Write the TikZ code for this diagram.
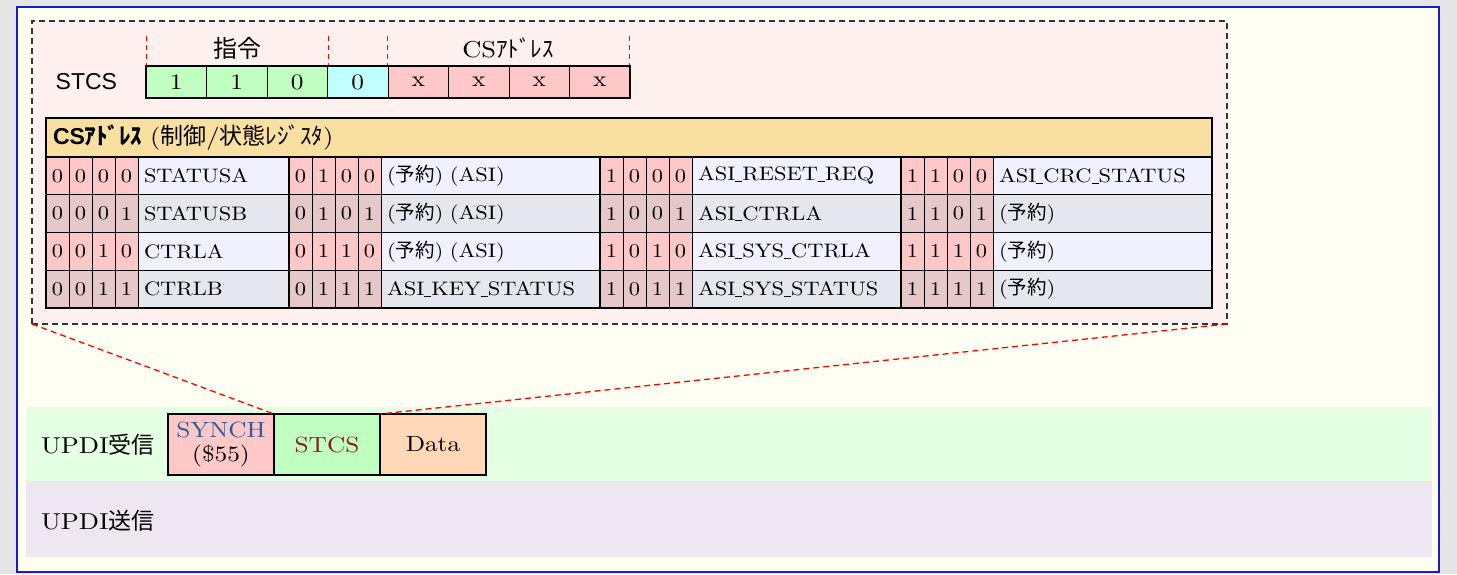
\documentclass[tikz,border=0pt]{standalone}
\usepackage{fontspec}
\setmainfont{lmroman10-regular.otf}[FakeStretch=1.15]
\setsansfont{Liberation Sans}
\newfontfamily\jp{Noto Sans CJK JP}
\usetikzlibrary{positioning}
\definecolor{pouter}{HTML}{E6E6E6}
\definecolor{pframe}{HTML}{1A1AD0}
\definecolor{pcream}{HTML}{FFFFF4}
\definecolor{pdetail}{HTML}{FFF0F0}
\definecolor{pgreen}{HTML}{C0FFC0}
\definecolor{pcyan}{HTML}{C0FFFF}
\definecolor{pbit1}{HTML}{FFC8C8}
\definecolor{pbit2}{HTML}{E6C8C8}
\definecolor{pname1}{HTML}{F0F0FF}
\definecolor{pname2}{HTML}{E6E6EE}
\definecolor{pwheat}{HTML}{FAE0A0}
\definecolor{prx}{HTML}{E4FFE4}
\definecolor{ptx}{HTML}{EEE6F0}
\definecolor{ppeach}{HTML}{FFD8B8}
\definecolor{pblue}{HTML}{2A5C9A}
\definecolor{pmaroon}{HTML}{8A1A1A}
\newcommand{\yoyaku}{({\jp 予約})}
\newcommand{\us}{\rule[-1pt]{0.36em}{0.8pt}}
\newcommand{\fs}[1]{\fontsize{#1}{#1}\selectfont}

\begin{document}
\begin{tikzpicture}[x=1pt,y=-1pt,
    every node/.style={inner sep=0pt,outer sep=0pt},
    bitbox/.style={draw,anchor=north west,minimum width=60.5pt,minimum height=32pt,font=\fs{22}},
    cell/.style={draw,line width=0.8pt,anchor=north west,minimum height=37.75pt,font=\fs{19.5}},
    frm/.style={draw,line width=2.5pt,minimum width=106pt,minimum height=61pt,
      align=center,font=\fontsize{22}{24}\selectfont}]
  \useasboundingbox (0,0) rectangle (1457,574);
  \fill[pouter] (0,0) rectangle (1457,574);
  \draw[pframe,line width=2pt,fill=pcream] (17,7) rectangle (1439,572);

  % zoomed STCS detail
  \node[draw=black!80,line width=1.2pt,dash pattern=on 6pt off 4pt,fill=pdetail,
        anchor=north west,minimum width=1195pt,minimum height=303pt] (detail) at (32,21) {};
  \foreach \x in {146,328,387,629}
    \draw[red,line width=0.9pt,dash pattern=on 5pt off 4pt] (\x,36) -- (\x,65);
  \node[font=\fs{24}] (lcmd) at (237,48) {\jp 指令};
  \node[font=\fs{23}] (laddr) at (508,48) {CS{\jp ｱﾄﾞﾚｽ}};
  \foreach \v/\c [count=\i] in {1/pgreen,1/pgreen,0/pgreen,0/pcyan,x/pbit1,x/pbit1,x/pbit1,x/pbit1}
    \node[bitbox,fill=\c] (b\i) at ({146+60.5*(\i-1)},66) {\v};
  \draw[line width=2.5pt] (b1.north west) rectangle (b8.south east);
  \node[font=\sffamily\fs{23},left=29pt of b1] (lstcs) {STCS};

  % CS address table
  \node[draw,fill=pwheat,anchor=north west,minimum height=39pt,text width=1152pt,
        inner xsep=7pt,font=\fs{23}] (thead) at (46,118)
    {{\sffamily\bfseries CS{\jp ｱﾄﾞﾚｽ}} ({\jp 制御}/{\jp 状態ﾚｼﾞｽﾀ})};
  \foreach \nm [count=\k from 0] in {STATUSA,STATUSB,CTRLA,CTRLB,
      \yoyaku\ (ASI),\yoyaku\ (ASI),\yoyaku\ (ASI),ASI\us KEY\us STATUS,
      ASI\us RESET\us REQ,ASI\us CTRLA,ASI\us SYS\us CTRLA,ASI\us SYS\us STATUS,
      ASI\us CRC\us STATUS,\yoyaku,\yoyaku,\yoyaku}{
    \pgfmathtruncatemacro\g{int(\k/4)}
    \pgfmathtruncatemacro\r{mod(\k,4)}
    \pgfmathsetmacro\gx{{46,289,600,901}[\g]}
    \pgfmathsetmacro\tw{{151,219,209,219}[\g]-12}
    \pgfmathsetmacro\ry{157+37.75*\r}
    \ifodd\r\relax \def\bc{pbit2}\def\nc{pname2}\else \def\bc{pbit1}\def\nc{pname1}\fi
    \foreach \j in {0,...,3}{
      \pgfmathtruncatemacro\bv{mod(int(\k/2^(3-\j)),2)}
      \node[cell,fill=\bc,minimum width=23pt] (c\k-\j) at ({\gx+23*\j},\ry) {\bv};
    }
    \node[cell,fill=\nc,text width=\tw pt,inner xsep=6pt] (n\k) at ({\gx+92},\ry) {\nm};
  }
  \draw[line width=2.5pt] (thead.north west) rectangle (n15.south east);
  \draw[line width=1.5pt] (thead.south west) -- (thead.south east);
  \foreach \i in {3,7,11}
    \draw[line width=2.5pt] (thead.south -| n\i.east) -- (n\i.south east);

  % UPDI lanes
  \fill[prx] (26,407) rectangle (1432,481);
  \fill[ptx] (26,481) rectangle (1432,557);
  \node[anchor=west,font=\fs{23}] (lrx) at (41,445) {UPDI{\jp 受信}};
  \node[anchor=west,font=\fs{23}] (ltx) at (41,521) {UPDI{\jp 送信}};
  \node[frm,fill=pbit1,anchor=north west] (fsync) at (168,414) {{\color{pblue}SYNCH}\\(\$55)};
  \node[frm,fill=pgreen,text=pmaroon,right=0pt of fsync] (fstcs) {STCS};
  \node[frm,fill=ppeach,right=0pt of fstcs] (fdata) {Data};

  \draw[red,line width=1.3pt,dash pattern=on 6pt off 4pt] (detail.south west) -- (fstcs.north west);
  \draw[red,line width=1.3pt,dash pattern=on 6pt off 4pt] (detail.south east) -- (fdata.north west);
\end{tikzpicture}
\end{document}
